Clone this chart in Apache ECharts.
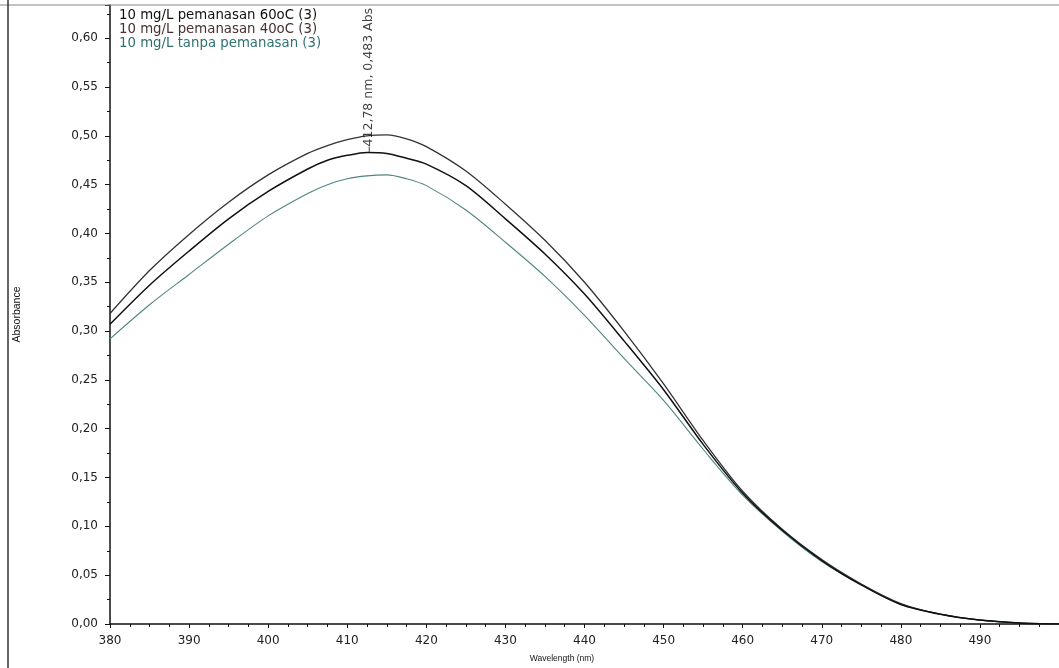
<!DOCTYPE html>
<html>
<head>
<meta charset="utf-8">
<script src="https://cdn.jsdelivr.net/npm/echarts@6/dist/echarts.min.js"></script>
<style>
html,body{margin:0;padding:0;background:#fff;}
#chart{width:1059px;height:668px;}
</style>
</head>
<body>
<div id="chart"></div>
<script>
// Wavelength (nm)
var wavelengths = [380,385,390,395,400,405,407.5,410,412.5,415,417.5,420,425,430,435,440,445,450,455,460,465,470,475,480,485,490,495,500];
// Absorbance series
var heated60 = [0.307,0.347,0.382,0.415,0.443,0.466,0.475,0.480,0.483,0.482,0.477,0.471,0.449,0.415,0.379,0.338,0.290,0.240,0.184,0.134,0.096,0.065,0.040,0.020,0.010,0.004,0.001,0.000];
var heated40 = [0.318,0.362,0.399,0.432,0.460,0.482,0.490,0.496,0.500,0.501,0.497,0.489,0.464,0.430,0.393,0.350,0.300,0.246,0.188,0.136,0.097,0.066,0.041,0.021,0.010,0.004,0.001,0.000];
var unheated = [0.292,0.327,0.358,0.389,0.418,0.441,0.450,0.456,0.459,0.460,0.456,0.449,0.424,0.391,0.356,0.316,0.272,0.229,0.179,0.132,0.095,0.064,0.040,0.020,0.010,0.004,0.001,0.000];
var seriesNames = ['10 mg/L pemanasan 60oC (3)','10 mg/L pemanasan 40oC (3)','10 mg/L tanpa pemanasan (3)'];
var peakPoint = [412.78, 0.483];
var peakLabel = '412,78 nm, 0,483 Abs';
var xAxisTitle = 'Wavelength (nm)';
var yAxisTitle = 'Absorbance';

function pairs(ys){ return wavelengths.map(function(x,i){ return [x, ys[i]]; }); }

var FONT = 'DejaVu Sans';
var chart = echarts.init(document.getElementById('chart'), null, {renderer:'canvas'});
chart.setOption({
  backgroundColor:'#fff',
  animation:false,
  grid:{left:110, right:0, top:5, bottom:42},
  legend:{
    orient:'vertical', left:114, top:4, itemGap:0, itemWidth:0, itemHeight:13, icon:'none',
    selectedMode:false,
    textStyle:{fontFamily:FONT, fontSize:13.3, padding:[0,0,0,-5], lineHeight:14},
    data:[
      {name:seriesNames[0], textStyle:{color:'#111'}},
      {name:seriesNames[1], textStyle:{color:'#4a3030'}},
      {name:seriesNames[2], textStyle:{color:'#2f7070'}}
    ]
  },
  xAxis:{
    type:'value', min:380, max:500, interval:10,
    name:xAxisTitle, nameLocation:'middle', nameGap:30,
    nameTextStyle:{fontFamily:'Liberation Sans', fontSize:8.5, color:'#111', padding:[0,45,0,0]},
    axisLine:{show:true, onZero:false, lineStyle:{color:'#111', width:1.5}},
    axisTick:{show:true, length:4, lineStyle:{color:'#111'}},
    minorTick:{show:true, splitNumber:4, length:3, lineStyle:{color:'#111'}},
    splitLine:{show:false},
    axisLabel:{fontFamily:FONT, fontSize:12, color:'#222', margin:11, showMaxLabel:false}
  },
  yAxis:{
    type:'value', min:0, max:0.634, interval:0.05,
    name:yAxisTitle, nameLocation:'middle', nameGap:87,
    nameTextStyle:{fontFamily:'Liberation Sans', fontSize:10.5, color:'#111'},
    axisLine:{show:true, onZero:false, lineStyle:{color:'#111', width:1.5}},
    axisTick:{show:true, length:5, lineStyle:{color:'#111'}},
    minorTick:{show:true, splitNumber:2, length:3, lineStyle:{color:'#111'}},
    splitLine:{show:false},
    axisLabel:{fontFamily:FONT, fontSize:12, color:'#222', margin:12, showMaxLabel:false,
      formatter:function(v){ return v.toFixed(2).replace('.', ','); }}
  },
  graphic:[
    {type:'line', shape:{x1:0, y1:5, x2:1059, y2:5}, style:{stroke:'#888', lineWidth:1.2}, z:10},
    {type:'line', shape:{x1:8, y1:0, x2:8, y2:668}, style:{stroke:'#333', lineWidth:1.5}, z:10}
  ],
  series:[
    {name:seriesNames[0], type:'line', data:pairs(heated60), smooth:0.3, showSymbol:false,
      lineStyle:{color:'#111', width:1.5}, itemStyle:{color:'#111'}, z:3},
    {name:seriesNames[1], type:'line', data:pairs(heated40), smooth:0.3, showSymbol:false,
      lineStyle:{color:'#333', width:1.3}, itemStyle:{color:'#333'}, z:2},
    {name:seriesNames[2], type:'line', data:pairs(unheated), smooth:0.3, showSymbol:false,
      lineStyle:{color:'#4f8583', width:1.1}, itemStyle:{color:'#4f8583'}, z:1},
    {name:'peak', type:'scatter', data:[peakPoint], symbol:'rect', symbolSize:[1,6], symbolOffset:[0,-3],
      itemStyle:{color:'#111'}, z:5, silent:true,
      label:{show:true, position:'top', distance:0, rotate:90, align:'left', verticalAlign:'middle',
        formatter:peakLabel, fontFamily:FONT, fontSize:12.5, color:'#111'}}
  ]
});
</script>
</body>
</html>
